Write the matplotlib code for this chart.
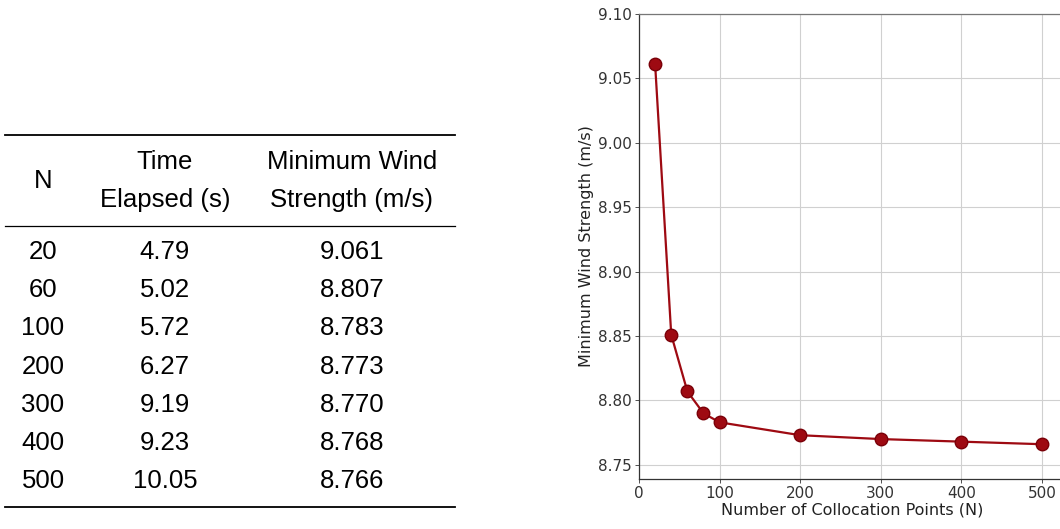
import matplotlib
matplotlib.use("Agg")
import matplotlib.pyplot as plt
from matplotlib.lines import Line2D

# --- table data ---
table_n = [20, 60, 100, 200, 300, 400, 500]
table_time = ["4.79", "5.02", "5.72", "6.27", "9.19", "9.23", "10.05"]
table_wind = ["9.061", "8.807", "8.783", "8.773", "8.770", "8.768", "8.766"]

# --- plot data ---
n_points = [20, 40, 60, 80, 100, 200, 300, 400, 500]
min_wind = [9.061, 8.851, 8.807, 8.790, 8.783, 8.773, 8.770, 8.768, 8.766]
x_ticks = [0, 100, 200, 300, 400, 500]
y_ticks = [8.75, 8.80, 8.85, 8.90, 8.95, 9.00, 9.05, 9.10]

W, H = 1060, 529
fig = plt.figure(figsize=(W / 100, H / 100), dpi=100)


def fx(px):
    return px / W


def fy(py):
    return 1 - py / H


# --- table (booktabs style) ---
tfont = dict(family=["Liberation Sans", "DejaVu Sans"], fontsize=18.5,
             ha="center", va="center", color="black")
col_x = [43, 165, 352]
fig.add_artist(Line2D([fx(5), fx(455)], [fy(135), fy(135)], color="black", lw=1.3))
fig.add_artist(Line2D([fx(5), fx(455)], [fy(226), fy(226)], color="black", lw=0.9))
fig.add_artist(Line2D([fx(5), fx(455)], [fy(507), fy(507)], color="black", lw=1.3))

fig.text(fx(col_x[0]), fy(181), "N", **tfont)
fig.text(fx(col_x[1]), fy(162), "Time", **tfont)
fig.text(fx(col_x[1]), fy(200), "Elapsed (s)", **tfont)
fig.text(fx(col_x[2]), fy(162), "Minimum Wind", **tfont)
fig.text(fx(col_x[2]), fy(200), "Strength (m/s)", **tfont)

for i, (n, t, w) in enumerate(zip(table_n, table_time, table_wind)):
    y = fy(252 + i * 38.2)
    fig.text(fx(col_x[0]), y, str(n), **tfont)
    fig.text(fx(col_x[1]), y, t, **tfont)
    fig.text(fx(col_x[2]), y, w, **tfont)

# --- convergence plot ---
ax_left, ax_top, ax_bottom = 639, 14, 479
x_max = 530
px_per_unit = (1042 - 639) / 500
ax_width = x_max * px_per_unit
ax = fig.add_axes([fx(ax_left), fy(ax_bottom), ax_width / W, (ax_bottom - ax_top) / H])

ax.plot(n_points, min_wind, color="#9e0a12", lw=1.6, marker="o", markersize=9,
        markerfacecolor="#9e0a12", markeredgecolor="#7a0008", zorder=3)
ax.set_xlim(0, x_max)
ax.set_ylim(8.739, 9.10)
ax.set_xticks(x_ticks)
ax.set_yticks(y_ticks)
ax.set_yticklabels([f"{v:.2f}" for v in y_ticks])
ax.grid(True, color="#d0d0d0", lw=0.8)
ax.set_axisbelow(True)
ax.tick_params(labelsize=11, length=3, width=0.6, colors="#333333", pad=2)
ax.set_xlabel("Number of Collocation Points (N)", fontsize=11.5, color="#222222", labelpad=1)
ax.set_ylabel("Minimum Wind Strength (m/s)", fontsize=11.5, color="#222222", labelpad=3)
for side in ["left", "bottom"]:
    ax.spines[side].set_color("#333333")
    ax.spines[side].set_linewidth(0.9)
ax.spines["top"].set_color("#777777")
ax.spines["top"].set_linewidth(0.9)

fig.savefig("out.png", dpi=100)
